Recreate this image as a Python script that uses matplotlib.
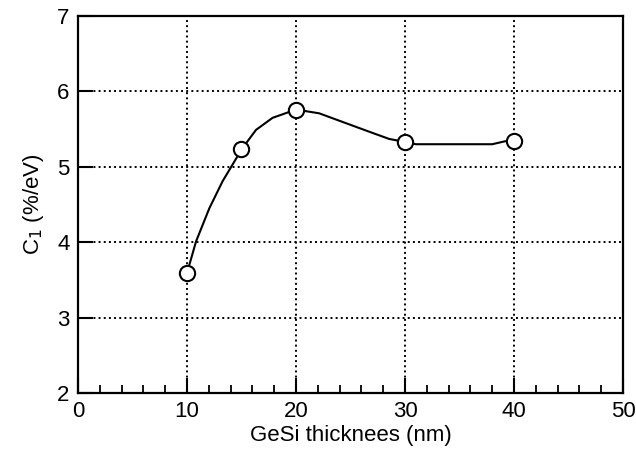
import matplotlib
matplotlib.use("Agg")
import matplotlib.pyplot as plt
from matplotlib.ticker import MultipleLocator

plt.rcParams['font.family'] = ['Liberation Sans', 'DejaVu Sans']

# measured points
thick = [10, 15, 20, 30, 40]
c1 = [3.59, 5.24, 5.76, 5.33, 5.34]

# hand-drawn curve through the points
curve_x = [10, 10.83, 12.05, 13.27, 15.05, 16.33, 17.85, 20, 22.13, 24.57,
           27.02, 28.55, 30, 31.0, 38.0, 39.2, 40]
curve_y = [3.59, 4.01, 4.45, 4.81, 5.24, 5.49, 5.65, 5.76, 5.71, 5.58,
           5.45, 5.37, 5.33, 5.30, 5.30, 5.34, 5.34]

fig = plt.figure(figsize=(6.36, 4.53), dpi=100)
ax = fig.add_axes([0.1226, 0.1325, 0.857, 0.832])

ax.plot(curve_x, curve_y, color='black', linewidth=1.5, zorder=3)
ax.plot(thick, c1, 'o', markersize=11, markerfacecolor='white',
        markeredgecolor='black', markeredgewidth=1.5, zorder=4)

ax.set_xlim(0, 50)
ax.set_ylim(2, 7)
ax.xaxis.set_major_locator(MultipleLocator(10))
ax.xaxis.set_minor_locator(MultipleLocator(2))
ax.yaxis.set_major_locator(MultipleLocator(1))

ax.grid(True, which='major', linestyle=':', color='black', linewidth=1.4)
ax.tick_params(which='major', direction='in', length=11, width=1.5,
               labelsize=16, top=False, right=False, pad=6)
ax.tick_params(axis='x', which='minor', direction='in', length=6, width=1.3)
for s in ax.spines.values():
    s.set_linewidth(1.6)

ax.set_xlabel('GeSi thicknees (nm)', fontsize=16, labelpad=2)
ax.set_ylabel('C$_1$ (%/eV)', fontsize=16, labelpad=8)

fig.savefig('out.png', dpi=100)
